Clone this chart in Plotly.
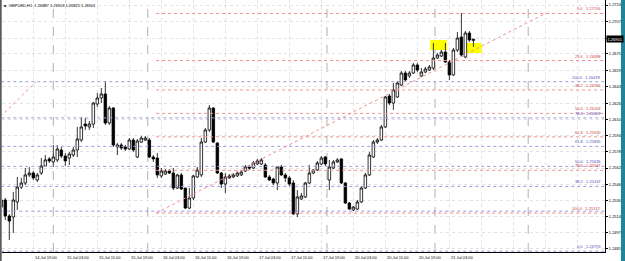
import plotly.graph_objects as go

# ---------------- data ----------------
bar_index = list(range(-1, 118))

open_ = [1.25232, 1.25302, 1.25143, 1.25133, 1.25282, 1.25431, 1.25471, 1.25551, 1.25570, 1.25501,
         1.25570, 1.25640, 1.25710, 1.25680, 1.25700, 1.25799, 1.25739, 1.25719, 1.25749, 1.25799,
         1.25898, 1.26057, 1.26028, 1.26057, 1.26256, 1.26316, 1.26356, 1.26067, 1.26216, 1.25829,
         1.25849, 1.25829, 1.25809, 1.25898, 1.25729, 1.25878, 1.25898, 1.25898, 1.25729, 1.25719,
         1.25541, 1.25560, 1.25590, 1.25570, 1.25421, 1.25551, 1.25421, 1.25222, 1.25322, 1.25531,
         1.25551, 1.25878, 1.25998, 1.26216, 1.25868, 1.25570, 1.25461, 1.25521, 1.25531, 1.25541,
         1.25551, 1.25590, 1.25630, 1.25620, 1.25660, 1.25660, 1.25650, 1.25531, 1.25511, 1.25471,
         1.25630, 1.25551, 1.25521, 1.25471, 1.25163, 1.25312, 1.25332, 1.25471, 1.25570, 1.25600,
         1.25660, 1.25729, 1.25501, 1.25620, 1.25680, 1.25710, 1.25471, 1.25272, 1.25203, 1.25212,
         1.25282, 1.25421, 1.25551, 1.25729, 1.25878, 1.25898, 1.26028, 1.26336, 1.26266, 1.26326,
         1.26445, 1.26564, 1.26535, 1.26564, 1.26644, 1.26535, 1.26574, 1.26594, 1.26614, 1.26713,
         1.26733, 1.26773, 1.26674, 1.26545, 1.26793, 1.26922, 1.26723, 1.26962, 1.26887]
high = [1.25382, 1.25322, 1.25163, 1.25382, 1.25531, 1.25521, 1.25620, 1.25630, 1.25590, 1.25570,
        1.25719, 1.25749, 1.25729, 1.25849, 1.25849, 1.25829, 1.25769, 1.25779, 1.25829, 1.26028,
        1.26127, 1.26117, 1.26087, 1.26276, 1.26366, 1.26415, 1.26485, 1.26236, 1.26226, 1.25868,
        1.25868, 1.25849, 1.25918, 1.25918, 1.25908, 1.25938, 1.25938, 1.25918, 1.25749, 1.25769,
        1.25620, 1.25610, 1.25610, 1.25620, 1.25560, 1.25570, 1.25421, 1.25421, 1.25551, 1.25630,
        1.25918, 1.26018, 1.26246, 1.26226, 1.25878, 1.25580, 1.25570, 1.25560, 1.25570, 1.25580,
        1.25600, 1.25650, 1.25650, 1.25690, 1.25710, 1.25719, 1.25670, 1.25551, 1.25521, 1.25640,
        1.25650, 1.25570, 1.25541, 1.25501, 1.25401, 1.25372, 1.25481, 1.25650, 1.25610, 1.25690,
        1.25739, 1.25739, 1.25700, 1.25700, 1.25719, 1.25719, 1.25481, 1.25282, 1.25242, 1.25302,
        1.25441, 1.25570, 1.25779, 1.25898, 1.25918, 1.26048, 1.26336, 1.26356, 1.26465, 1.26485,
        1.26584, 1.26584, 1.26584, 1.26664, 1.26664, 1.26614, 1.26624, 1.26644, 1.26863, 1.26763,
        1.26793, 1.26863, 1.26694, 1.26813, 1.26972, 1.27161, 1.26982, 1.26982, 1.26903]
low = [1.25183, 1.25103, 1.24904, 1.24974, 1.25203, 1.25411, 1.25451, 1.25531, 1.25501, 1.25481,
       1.25551, 1.25630, 1.25670, 1.25630, 1.25680, 1.25719, 1.25640, 1.25650, 1.25729, 1.25729,
       1.25878, 1.25998, 1.25998, 1.26018, 1.26226, 1.26266, 1.26048, 1.26048, 1.25829, 1.25749,
       1.25799, 1.25789, 1.25799, 1.25779, 1.25719, 1.25868, 1.25888, 1.25719, 1.25680, 1.25521,
       1.25521, 1.25551, 1.25560, 1.25401, 1.25411, 1.25401, 1.25212, 1.25212, 1.25302, 1.25521,
       1.25531, 1.25868, 1.25978, 1.25868, 1.25560, 1.25421, 1.25372, 1.25511, 1.25521, 1.25531,
       1.25541, 1.25580, 1.25600, 1.25610, 1.25650, 1.25650, 1.25521, 1.25491, 1.25451, 1.25401,
       1.25541, 1.25481, 1.25441, 1.25153, 1.25133, 1.25302, 1.25322, 1.25461, 1.25560, 1.25590,
       1.25650, 1.25640, 1.25401, 1.25610, 1.25670, 1.25461, 1.25262, 1.25203, 1.25193, 1.25203,
       1.25272, 1.25411, 1.25541, 1.25719, 1.25859, 1.25888, 1.26018, 1.26246, 1.26197, 1.26316,
       1.26435, 1.26485, 1.26515, 1.26554, 1.26574, 1.26525, 1.26564, 1.26584, 1.26594, 1.26704,
       1.26723, 1.26664, 1.26495, 1.26535, 1.26773, 1.26723, 1.26713, 1.26873, 1.26825]
close = [1.25302, 1.25143, 1.25093, 1.25302, 1.25431, 1.25471, 1.25551, 1.25570, 1.25521, 1.25551,
         1.25640, 1.25700, 1.25690, 1.25729, 1.25809, 1.25739, 1.25690, 1.25759, 1.25799, 1.25908,
         1.26028, 1.26038, 1.26057, 1.26266, 1.26316, 1.26356, 1.26067, 1.26216, 1.25849, 1.25849,
         1.25819, 1.25809, 1.25898, 1.25799, 1.25888, 1.25918, 1.25918, 1.25729, 1.25710, 1.25551,
         1.25590, 1.25590, 1.25570, 1.25421, 1.25551, 1.25411, 1.25222, 1.25322, 1.25541, 1.25600,
         1.25878, 1.25998, 1.26216, 1.25878, 1.25570, 1.25461, 1.25531, 1.25541, 1.25551, 1.25570,
         1.25580, 1.25630, 1.25620, 1.25670, 1.25690, 1.25700, 1.25531, 1.25501, 1.25471, 1.25630,
         1.25551, 1.25521, 1.25461, 1.25163, 1.25332, 1.25342, 1.25471, 1.25570, 1.25600, 1.25670,
         1.25719, 1.25660, 1.25630, 1.25680, 1.25700, 1.25471, 1.25272, 1.25212, 1.25232, 1.25282,
         1.25421, 1.25551, 1.25749, 1.25878, 1.25898, 1.26028, 1.26326, 1.26266, 1.26395, 1.26465,
         1.26564, 1.26495, 1.26564, 1.26644, 1.26594, 1.26574, 1.26604, 1.26624, 1.26713, 1.26743,
         1.26773, 1.26674, 1.26545, 1.26793, 1.26912, 1.26743, 1.26962, 1.26892, 1.26901]

price_ticks = [1.27240, 1.27075, 1.26910, 1.26755, 1.26590, 1.26430, 1.26265, 1.26105,
               1.25940, 1.25780, 1.25620, 1.25460, 1.25300, 1.25140, 1.24975, 1.24815]

time_label_bars = [-1, 7, 15, 23, 31, 39, 47, 55, 63, 71, 79, 87, 95, 103, 111]
time_labels = ["14 Jul 2020", "14 Jul 19:00", "15 Jul 03:00", "15 Jul 11:00", "15 Jul 19:00",
               "16 Jul 03:00", "16 Jul 11:00", "16 Jul 19:00", "17 Jul 03:00", "17 Jul 11:00",
               "17 Jul 19:00", "20 Jul 03:00", "20 Jul 11:00", "20 Jul 19:00", "21 Jul 03:00"]
grid_bars = [-1 + 8 * k for k in range(20)]
separator_bars = [12, 35.6, 80.4, 107.4, 130.7]

symbol_header = "GBPUSD,H1  1.26887 1.26903 1.26825 1.26901"
last_price = 1.26901

# Fibonacci retracement drawn in red (anchor bars and prices)
red_fib_bars = [37.7, 135.0]
red_fib_anchor_prices = [1.25172, 1.27156]
red_fib_levels = ["0.0", "23.6", "38.2", "50.0", "61.8", "78.6", "100.0"]
red_fib_prices = [1.27156, 1.26688, 1.26396, 1.26163, 1.25930, 1.25597, 1.25172]
# Fibonacci retracement drawn in blue (its 23.6 label sits under the red 100.0 label)
blue_fib_bars = [-35.5, 7.7]
blue_fib_anchor_prices = [1.24793, 1.26478]
blue_fib_levels = ["0.0", "23.6", "38.2", "50.0", "61.8", "78.6", "100.0"]
blue_fib_prices = [1.24793, 1.25191, 1.25437, 1.25636, 1.25835, 1.26118, 1.26478]

# highlighted rectangles (bar range, price range)
rect_bars = [(106.2, 110.4), (115.2, 119.2)]
rect_prices = [(1.26793, 1.26892), (1.26763, 1.26863)]

# ---------------- figure ----------------
X_MIN, X_MAX = -0.825, 149.9
Y_MIN, Y_MAX = 1.24785, 1.27290
RED = "#f09090"
BLUE = "#9c9ce0"
GRID = "#e2e2e2"
FONT = "Liberation Sans"

fig = go.Figure()

for p in blue_fib_prices:
    fig.add_trace(go.Scatter(x=[blue_fib_bars[0], X_MAX + 5], y=[p, p], mode="lines",
                             line=dict(color=BLUE, width=1, dash="dot"), hoverinfo="skip"))
for p in red_fib_prices:
    fig.add_trace(go.Scatter(x=[red_fib_bars[0], X_MAX + 5], y=[p, p], mode="lines",
                             line=dict(color=RED, width=1, dash="dot"), hoverinfo="skip"))
fig.add_trace(go.Scatter(x=blue_fib_bars, y=blue_fib_anchor_prices, mode="lines",
                         line=dict(color=RED, width=1, dash="dot"), hoverinfo="skip"))
fig.add_trace(go.Scatter(x=red_fib_bars, y=red_fib_anchor_prices, mode="lines",
                         line=dict(color=RED, width=1, dash="dot"), hoverinfo="skip"))

fig.add_trace(go.Candlestick(
    x=bar_index, open=open_, high=high, low=low, close=close,
    increasing=dict(fillcolor="white", line=dict(color="black", width=0.8)),
    decreasing=dict(fillcolor="black", line=dict(color="black", width=0.8)),
    whiskerwidth=0, hoverinfo="skip"))

shapes = []
for (b0, b1), (p0, p1) in zip(rect_bars, rect_prices):
    shapes.append(dict(type="rect", xref="x", yref="y", x0=b0, x1=b1, y0=p0, y1=p1,
                       fillcolor="#ffff00", line=dict(width=0), layer="below"))
for b in separator_bars:
    shapes.append(dict(type="line", xref="x", yref="paper", x0=b, x1=b, y0=0, y1=1,
                       line=dict(color="#b0b0b0", width=1, dash="dash"), layer="below"))
shapes.append(dict(type="rect", xref="paper", yref="paper", x0=-0.0035, x1=-0.0005, y0=-0.05, y1=1.01,
                   fillcolor="#5a5a5a", line=dict(width=0)))
shapes.append(dict(type="rect", xref="paper", yref="paper", x0=1.0265, x1=1.05, y0=-0.1, y1=1.1,
                   fillcolor="#1f8598", line=dict(width=0)))

annotations = []
small = dict(family=FONT, size=4, color="black")
for b, t in zip(time_label_bars, time_labels):
    annotations.append(dict(x=b, y=0, xref="x", yref="paper", text=t, showarrow=False,
                            xanchor="left", yanchor="top", yshift=-1, font=small))
for lvl, p in zip(blue_fib_levels, blue_fib_prices):
    if lvl == "23.6":
        continue
    annotations.append(dict(x=1, y=p, xref="paper", yref="y", xanchor="right", yanchor="bottom",
                            xshift=-2, showarrow=False,
                            text=f"{lvl}\u00a0\u00a0\u00a0{p:.5f}",
                            font=dict(family=FONT, size=4, color="#5050b8")))
for lvl, p in zip(red_fib_levels, red_fib_prices):
    annotations.append(dict(x=1, y=p, xref="paper", yref="y", xanchor="right", yanchor="bottom",
                            xshift=-2, showarrow=False,
                            text=f"{lvl}\u00a0\u00a0\u00a0{p:.5f}",
                            font=dict(family=FONT, size=4, color="#d04040")))
annotations.append(dict(x=0, y=1, xref="paper", yref="paper", xanchor="left", yanchor="top",
                        xshift=5, yshift=-1, showarrow=False, text=symbol_header, font=small))
annotations.append(dict(x=0, y=1, xref="paper", yref="paper", xanchor="left", yanchor="top",
                        xshift=0, yshift=-1, showarrow=False, text="\u25a0",
                        font=dict(family=FONT, size=4, color="#333333")))
annotations.append(dict(x=1, y=last_price, xref="paper", yref="y", xanchor="left", yanchor="middle",
                        xshift=1, showarrow=False, text=f"{last_price:.5f}", bgcolor="black",
                        borderpad=0.5, font=dict(family=FONT, size=4, color="white")))

fig.update_layout(
    width=625, height=261,
    margin=dict(l=2, r=20, t=0, b=9),
    paper_bgcolor="white", plot_bgcolor="white",
    showlegend=False, boxgap=0.1,
    shapes=shapes, annotations=annotations,
    xaxis=dict(range=[X_MIN, X_MAX], rangeslider=dict(visible=False), showticklabels=False,
               tickvals=grid_bars, showgrid=True, gridcolor=GRID, griddash="dot", gridwidth=1,
               zeroline=False, showline=True, linecolor="black", linewidth=1, ticks=""),
    yaxis=dict(range=[Y_MIN, Y_MAX], side="right", tickvals=price_ticks,
               ticktext=["" if abs(v - last_price) < 0.0002 else f"{v:.5f}" for v in price_ticks],
               tickfont=small,
               showgrid=True, gridcolor=GRID, griddash="dot", gridwidth=1,
               zeroline=False, showline=True, linecolor="black", linewidth=1,
               ticks="outside", ticklen=2, tickcolor="black"),
)

fig.write_html("out.html")
